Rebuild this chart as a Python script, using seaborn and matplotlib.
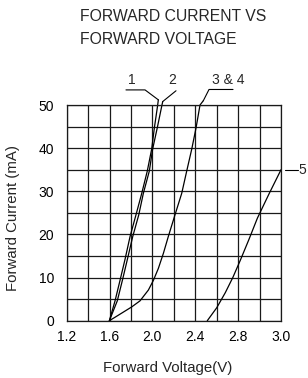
import matplotlib

matplotlib.use("Agg")
import matplotlib.pyplot as plt
import pandas as pd
import seaborn as sns

# %%
# curves (forward voltage in V, forward current in mA)
curve1_v = [1.598, 1.651, 1.697, 1.744, 1.791, 1.846, 1.900, 1.952, 1.993, 2.018, 2.049, 2.055]
curve1_i = [0, 4.6, 9.3, 14.2, 19.5, 24.5, 29.5, 34.7, 39.8, 44.7, 50, 51.2]

curve2_v = [1.598, 1.672, 1.719, 1.766, 1.816, 1.872, 1.915, 1.971, 2.002, 2.045, 2.089, 2.096]
curve2_i = [0, 4.6, 9.3, 14.2, 19.5, 24.5, 29.5, 34.7, 39.8, 44.7, 50, 50.8]

curve34_v = [1.598, 1.651, 1.807, 1.884, 1.962, 2.008, 2.055, 2.102, 2.148, 2.210, 2.273, 2.320, 2.367, 2.407, 2.444, 2.475]
curve34_i = [0, 0.8, 3.2, 4.6, 7.1, 9.3, 12.1, 15.6, 19.5, 24.5, 29.5, 34.7, 39.8, 44.7, 50, 51.0]

curve5_v = [2.512, 2.600, 2.680, 2.750, 2.820, 2.900, 2.980, 3.090, 3.200]
curve5_i = [0, 3.0, 6.5, 10.0, 14.0, 18.8, 23.8, 29.5, 35.0]

xtick_pos = [1.2, 1.6, 2.0, 2.4, 2.8, 3.2]
xtick_labels = ["1.2", "1.6", "2.0", "2.4", "2.8", "3.0"]
ytick_pos = [0, 10, 20, 30, 40, 50]

title = "FORWARD CURRENT VS\nFORWARD VOLTAGE"
xlabel = "Forward Voltage(V)"
ylabel = "Forward Current (mA)"

# %%
frames = []
for name, v, i in [
    ("1", curve1_v, curve1_i),
    ("2", curve2_v, curve2_i),
    ("3 & 4", curve34_v, curve34_i),
    ("5", curve5_v, curve5_i),
]:
    frames.append(pd.DataFrame({"voltage": v, "current": i, "curve": name}))
df = pd.concat(frames, ignore_index=True)

sns.set_style("white")
plt.rcParams["font.family"] = ["Liberation Sans", "DejaVu Sans"]

fig = plt.figure(figsize=(3.08, 3.78), dpi=100)
ax = fig.add_axes([0.2166, 0.1516, 0.6958, 0.5706])

sns.lineplot(
    data=df,
    x="voltage",
    y="current",
    units="curve",
    estimator=None,
    sort=False,
    color="black",
    linewidth=0.9,
    ax=ax,
)
for line in ax.lines:
    line.set_clip_on(False)

ax.set_xlim(1.2, 3.2)
ax.set_ylim(0, 50)
ax.set_xticks(xtick_pos)
ax.set_xticklabels(xtick_labels)
ax.set_xticks([1.2 + 0.2 * k for k in range(11)], minor=True)
ax.set_yticks(ytick_pos)
ax.set_yticks(list(range(0, 55, 5)), minor=True)
ax.grid(True, which="both", color="#1a1a1a", linewidth=0.9)
ax.tick_params(which="both", length=0, labelsize=10, colors="black")
ax.tick_params(axis="x", pad=7)
ax.tick_params(axis="y", pad=9)
for s in ax.spines.values():
    s.set_color("#1a1a1a")
    s.set_linewidth(0.9)

ax.set_xlabel(xlabel, fontsize=10.8)
ax.xaxis.set_label_coords(0.473, -0.22)
ax.xaxis.label.set_verticalalignment("center")
ax.set_ylabel(ylabel, fontsize=10.8)
ax.yaxis.set_label_coords(-0.25, 0.476)
ax.yaxis.label.set_verticalalignment("center")

# curve labels with leader lines
leader = dict(color="black", linewidth=0.8, clip_on=False)
ax.plot([1.753, 1.931, 2.055], [53.5, 53.5, 51.2], **leader)
ax.plot([2.096, 2.220], [50.8, 53.3], **leader)
ax.plot([2.475, 2.528, 2.752], [51.0, 53.6, 53.6], **leader)
ax.plot([3.237, 3.358], [34.9, 34.9], **leader)
ax.text(1.807, 54.2, "1", ha="center", va="bottom", fontsize=10, clip_on=False)
ax.text(2.189, 54.2, "2", ha="center", va="bottom", fontsize=10, clip_on=False)
ax.text(2.705, 54.2, "3 & 4", ha="center", va="bottom", fontsize=10, clip_on=False)
ax.text(3.36, 34.9, "5", ha="left", va="center", fontsize=10, clip_on=False)

fig.text(80 / 308, 1 - 9 / 378, title, ha="left", va="top", fontsize=11.3,
         linespacing=1.7)

fig.savefig("out.png", dpi=100)
